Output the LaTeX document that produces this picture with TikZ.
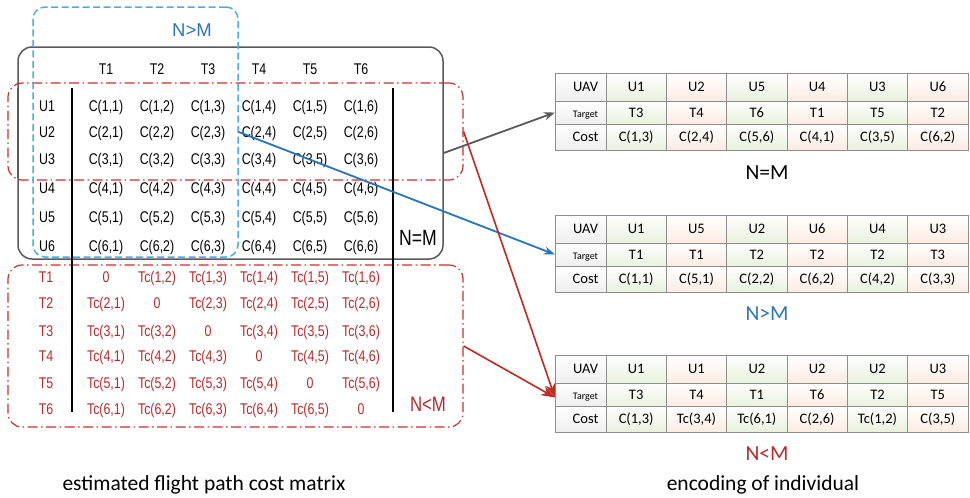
\documentclass[tikz,border=0pt]{standalone}
\usepackage{fontspec}
\setmainfont{Liberation Sans}
\newfontfamily\mfont[FakeStretch=0.8]{Liberation Sans}
\newfontfamily\cfont{Carlito}
\usetikzlibrary{arrows.meta}
\definecolor{gframe}{HTML}{5A5A5A}
\definecolor{bdash}{HTML}{4CADE0}
\definecolor{btext}{HTML}{2E75B6}
\definecolor{rline}{HTML}{C9312C}
\definecolor{rtext}{HTML}{B8292B}
\definecolor{cellG}{HTML}{E8F1DD}
\definecolor{cellP}{HTML}{FCECE2}
\definecolor{cellW}{HTML}{EFEFEF}
\definecolor{cellB}{HTML}{8E8E8E}
\definecolor{arrgray}{HTML}{595959}
\definecolor{arrblue}{HTML}{2A74BC}
\definecolor{arrred}{HTML}{BF2A23}
\newcommand\enctable[3]{%
  \node[cell, bottom color=cellW, minimum height=28pt] (#1-h1) at (585.5,#2+14) {UAV};
  \node[cell, bottom color=cellW, minimum height=23pt, font=\cfont\fontsize{10}{10}\selectfont] (#1-h2) at (585.5,#2+39.5) {Target};
  \node[cell, bottom color=cellW, minimum height=26pt] (#1-h3) at (585.5,#2+64) {Cost};
  \foreach \u/\t/\c [count=\i] in {#3} {
    \ifodd\i\def\cc{cellG}\else\def\cc{cellP}\fi
    \pgfmathsetmacro\xc{606+60.33*(\i-1)+30.17}
    \node[cell, bottom color=\cc, minimum height=28pt] (#1-u\i) at (\xc,#2+14) {\u};
    \node[cell, bottom color=\cc, minimum height=23pt] (#1-t\i) at (\xc,#2+39.5) {\t};
    \node[cell, bottom color=\cc, minimum height=26pt] (#1-c\i) at (\xc,#2+64) {\c};
  }
}
\begin{document}
\begin{tikzpicture}[x=1pt,y=-1pt,
  mtxt/.style={font=\mfont\fontsize{15.5}{15.5}\selectfont, inner sep=0, anchor=base},
  rtxt/.style={mtxt, text=rtext},
  grayframe/.style={draw=gframe, line width=1.5pt, rounded corners=14pt, inner sep=0},
  redframe/.style={draw=rline, line width=1.2pt, rounded corners=14pt, inner sep=0,
    dash pattern=on 10pt off 3.5pt on 1.5pt off 3.5pt},
  blueframe/.style={draw=bdash, line width=1.5pt, rounded corners=12pt, inner sep=0,
    dash pattern=on 7pt off 3.5pt},
  cell/.style={draw=cellB, line width=0.8pt, top color=white, inner sep=0,
    minimum width=60.33pt, font=\cfont\fontsize{14.5}{14.5}\selectfont,
    text height=10.5pt, text depth=1.5pt},
  biglab/.style={font=\cfont\fontsize{21.5}{21.5}\selectfont, inner sep=0, anchor=base},
  marrow/.style={line width=1.8pt, -{Stealth[length=11pt,width=8pt]}},
  rarrow/.style={line width=1.6pt, draw=arrred, -{Stealth[length=14pt,width=10pt]}}
]
\useasboundingbox (0,0) rectangle (970,498);
% frames
\node[grayframe, minimum width=425pt, minimum height=212pt] (eqbox) at (230.5,153) {};
\draw[gframe, line width=2.5pt] (18,88) -- (18,178);
\node[redframe, minimum width=455pt, minimum height=97pt] (redup) at (235.5,131.5) {};
\node[redframe, minimum width=455pt, minimum height=162pt] (reddown) at (235.5,346) {};
\node[blueframe, minimum width=205pt, minimum height=250pt] (nbox) at (135.5,132) {};
% vertical bars
\draw[black, line width=2pt] (72,88) -- (72,412);
\draw[black, line width=2pt] (393,88) -- (393,412);
% headers
\foreach \c/\x in {1/106,2/157,3/208,4/259,5/310,6/361}
  \node[mtxt] (hd\c) at (\x,74.5) {T\c};
% cost matrix
\foreach \r/\y in {1/106,2/132,3/159,4/188,5/217,6/246} {
  \node[mtxt] (ru\r) at (47,\y+5.5) {U\r};
  \foreach \c/\x in {1/106,2/157,3/208,4/259,5/310,6/361}
    \node[mtxt] (c\r\c) at (\x,\y+5.5) {C(\r,\c)};
}
% target matrix
\foreach \r/\y in {1/277,2/303,3/331,4/356,5/383,6/409} {
  \node[rtxt] (rt\r) at (46,\y+5.5) {T\r};
  \foreach \c/\x in {1/106,2/157,3/208,4/259,5/310,6/361} {
    \ifnum\r=\c
      \node[rtxt] (tc\r\c) at (\x,\y+5.5) {0};
    \else
      \node[rtxt] (tc\r\c) at (\x,\y+5.5) {Tc(\r,\c)};
    \fi
  }
}
% matrix labels
\node[mtxt, font=\mfont\fontsize{22}{22}\selectfont] (lEq) at (418,245) {N=M};
\node[inner sep=0, anchor=base, text=btext, font=\fontsize{18.5}{18.5}\selectfont] (lGt) at (192,36.5) {N>M};
\node[rtxt, font=\mfont\fontsize{21}{21}\selectfont] (lLt) at (428,411.5) {N<M};
% tables
\enctable{tA}{73}{U1/T3/{C(1,3)},U2/T4/{C(2,4)},U5/T6/{C(5,6)},U4/T1/{C(4,1)},U3/T5/{C(3,5)},U6/T2/{C(6,2)}}
\enctable{tB}{215}{U1/T1/{C(1,1)},U5/T1/{C(5,1)},U2/T2/{C(2,2)},U6/T2/{C(6,2)},U4/T2/{C(4,2)},U3/T3/{C(3,3)}}
\enctable{tC}{355}{U1/T3/{C(1,3)},U1/T4/{Tc(3,4)},U2/T1/{Tc(6,1)},U2/T6/{C(2,6)},U2/T2/{Tc(1,2)},U3/T5/{C(3,5)}}
\node[biglab] (capA) at (767,179) {N=M};
\node[biglab, text=btext] (capB) at (767,320.5) {N>M};
\node[biglab, text=rtext] (capC) at (767,460.5) {N<M};
% bottom captions
\node[biglab] (capL) at (204,490) {estimated flight path cost matrix};
\node[biglab] (capR) at (763,490) {encoding of individual};
% arrows
\draw[marrow, draw=arrgray] (eqbox.east) -- (tA-h2.west);
\draw[marrow, draw=arrblue] (nbox.east) -- (tB-h2.west);
\draw[rarrow] (redup.east) -- ([yshift=-3pt]tC-h2.west);
\draw[rarrow] (reddown.east) -- ([yshift=-3pt]tC-h2.west);
\end{tikzpicture}
\end{document}
